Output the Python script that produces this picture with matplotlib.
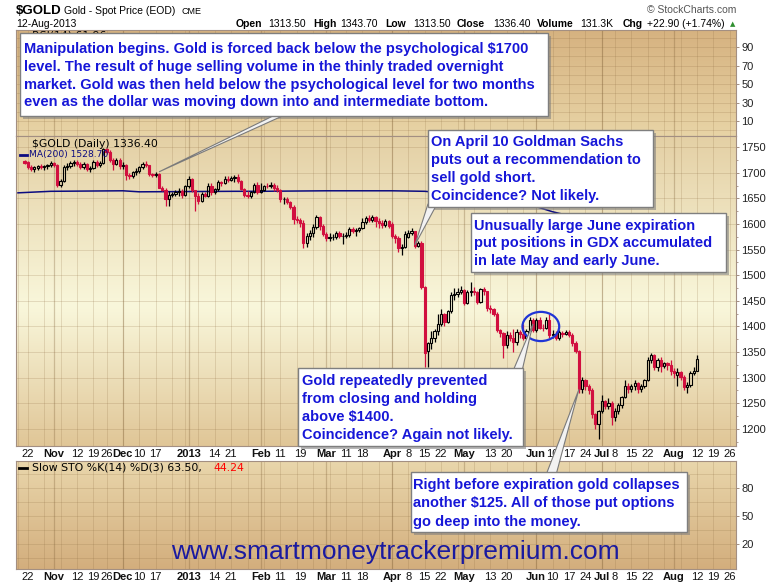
import matplotlib
matplotlib.use('Agg')
import matplotlib.pyplot as plt
import numpy as np
import pandas as pd
from matplotlib.colors import LinearSegmentedColormap
from matplotlib.patches import Rectangle, Polygon, Ellipse
from matplotlib.ticker import MultipleLocator

# daily candles: (open, high, low, close), one list per month
oct_2012 = [(1724, 1726, 1718, 1720), (1722, 1724, 1708, 1712), (1712, 1716, 1703, 1708),
            (1708, 1714, 1702, 1712), (1710, 1716, 1706, 1714), (1714, 1718, 1708, 1711),
            (1711, 1716, 1705, 1714), (1714, 1718, 1708, 1716), (1716, 1724, 1712, 1720)]
nov_2012 = [(1720, 1722, 1712, 1715), (1715, 1718, 1672, 1676), (1676, 1688, 1672, 1684),
            (1684, 1716, 1682, 1712), (1712, 1720, 1706, 1714), (1714, 1724, 1710, 1720),
            (1720, 1726, 1714, 1722), (1722, 1725, 1714, 1718), (1718, 1722, 1708, 1712),
            (1712, 1722, 1708, 1718), (1718, 1720, 1704, 1708), (1708, 1714, 1702, 1710),
            (1710, 1726, 1708, 1722), (1722, 1725, 1712, 1716), (1716, 1724, 1712, 1720),
            (1720, 1748, 1718, 1746), (1746, 1749, 1736, 1740), (1740, 1744, 1722, 1726),
            (1726, 1729, 1705, 1717), (1717, 1730, 1715, 1726), (1726, 1729, 1708, 1713)]
dec_2012 = [(1713, 1722, 1708, 1716), (1716, 1718, 1686, 1696), (1696, 1700, 1688, 1694),
            (1694, 1704, 1690, 1702), (1702, 1710, 1695, 1704), (1704, 1714, 1700, 1711),
            (1711, 1722, 1708, 1717), (1717, 1724, 1712, 1715), (1715, 1716, 1694, 1697),
            (1697, 1700, 1692, 1696), (1696, 1701, 1692, 1697), (1697, 1699, 1670, 1671),
            (1671, 1674, 1664, 1667), (1667, 1670, 1636, 1648), (1648, 1664, 1636, 1657),
            (1657, 1662, 1652, 1659), (1659, 1666, 1654, 1662), (1662, 1670, 1655, 1664),
            (1664, 1668, 1650, 1656), (1656, 1676, 1654, 1674)]
jan_2013 = [(1674, 1694, 1670, 1688), (1688, 1690, 1662, 1666), (1666, 1667, 1626, 1655),
            (1655, 1660, 1640, 1646), (1646, 1662, 1644, 1659), (1659, 1663, 1652, 1655),
            (1655, 1680, 1653, 1675), (1675, 1680, 1656, 1662), (1662, 1670, 1658, 1668),
            (1668, 1686, 1664, 1682), (1682, 1684, 1674, 1680), (1680, 1694, 1678, 1688),
            (1688, 1694, 1682, 1687), (1687, 1693, 1684, 1690), (1690, 1696, 1683, 1692),
            (1692, 1697, 1680, 1685), (1685, 1687, 1666, 1669), (1669, 1671, 1653, 1657),
            (1657, 1664, 1650, 1654), (1654, 1664, 1651, 1662), (1662, 1681, 1660, 1677),
            (1677, 1683, 1658, 1662)]
feb_2013 = [(1662, 1681, 1660, 1667), (1667, 1677, 1664, 1675), (1675, 1680, 1670, 1674),
            (1674, 1682, 1670, 1677), (1677, 1680, 1665, 1671), (1671, 1676, 1662, 1667),
            (1667, 1668, 1644, 1648), (1648, 1652, 1640, 1649), (1649, 1652, 1640, 1643),
            (1643, 1645, 1630, 1634), (1634, 1637, 1600, 1609), (1609, 1615, 1603, 1607),
            (1607, 1612, 1594, 1603), (1603, 1608, 1554, 1564), (1564, 1583, 1555, 1577),
            (1577, 1588, 1569, 1582), (1582, 1600, 1575, 1594), (1594, 1617, 1590, 1613),
            (1613, 1615, 1588, 1596), (1596, 1601, 1577, 1580)]
mar_2013 = [(1580, 1584, 1567, 1572), (1572, 1582, 1566, 1574), (1574, 1580, 1568, 1575),
            (1575, 1586, 1571, 1583), (1583, 1586, 1573, 1576), (1576, 1583, 1562, 1577),
            (1577, 1584, 1573, 1578), (1578, 1594, 1575, 1590), (1590, 1594, 1582, 1587),
            (1587, 1592, 1576, 1588), (1588, 1595, 1584, 1592), (1592, 1612, 1590, 1605),
            (1605, 1616, 1600, 1612), (1612, 1617, 1604, 1608), (1608, 1618, 1605, 1614),
            (1614, 1616, 1594, 1606), (1606, 1612, 1592, 1603), (1603, 1608, 1593, 1598),
            (1598, 1609, 1594, 1606), (1606, 1608, 1593, 1597)]
apr_2013 = [(1600, 1604, 1572, 1576), (1576, 1580, 1564, 1572), (1572, 1576, 1545, 1553),
            (1553, 1561, 1540, 1556), (1556, 1586, 1553, 1581), (1575, 1588, 1572, 1583),
            (1583, 1592, 1578, 1586), (1586, 1587, 1554, 1558), (1558, 1567, 1555, 1564),
            (1564, 1566, 1474, 1477), (1477, 1480, 1321, 1348), (1352, 1370, 1321, 1368),
            (1368, 1392, 1356, 1377), (1377, 1396, 1370, 1392), (1392, 1424, 1384, 1404),
            (1404, 1434, 1400, 1424), (1424, 1426, 1400, 1409), (1409, 1432, 1406, 1430),
            (1430, 1468, 1427, 1462), (1462, 1476, 1452, 1463), (1463, 1476, 1458, 1468),
            (1468, 1480, 1463, 1472)]
may_2013 = [(1472, 1474, 1442, 1445), (1445, 1472, 1443, 1468), (1468, 1487, 1460, 1470),
            (1470, 1478, 1462, 1468), (1468, 1470, 1443, 1448), (1448, 1476, 1446, 1473),
            (1473, 1477, 1462, 1469), (1469, 1470, 1430, 1436), (1436, 1442, 1426, 1434),
            (1434, 1437, 1420, 1425), (1425, 1428, 1389, 1394), (1394, 1396, 1380, 1387),
            (1387, 1390, 1338, 1363), (1363, 1392, 1358, 1384), (1384, 1390, 1372, 1377),
            (1377, 1396, 1350, 1370), (1370, 1396, 1364, 1390), (1390, 1394, 1378, 1386),
            (1386, 1404, 1374, 1378), (1378, 1396, 1375, 1392), (1392, 1418, 1389, 1412),
            (1412, 1417, 1390, 1394)]
jun_2013 = [(1394, 1416, 1390, 1412), (1412, 1418, 1396, 1398), (1398, 1405, 1392, 1397),
            (1397, 1418, 1395, 1413), (1413, 1424, 1378, 1383), (1383, 1393, 1378, 1386),
            (1386, 1391, 1373, 1378), (1378, 1394, 1374, 1390), (1388, 1392, 1380, 1386),
            (1386, 1394, 1384, 1390), (1390, 1393, 1380, 1384), (1384, 1388, 1362, 1368),
            (1368, 1372, 1348, 1352), (1352, 1354, 1270, 1277), (1277, 1301, 1270, 1296),
            (1296, 1298, 1275, 1284), (1284, 1288, 1268, 1276), (1276, 1280, 1222, 1230),
            (1230, 1232, 1200, 1210), (1210, 1237, 1180, 1234)]
jul_2013 = [(1234, 1267, 1232, 1254), (1254, 1256, 1238, 1244), (1244, 1260, 1238, 1250),
            (1250, 1254, 1207, 1223), (1223, 1240, 1215, 1235), (1235, 1250, 1230, 1246),
            (1246, 1265, 1240, 1263), (1263, 1295, 1260, 1284), (1284, 1290, 1270, 1278),
            (1278, 1288, 1273, 1284), (1284, 1296, 1275, 1290), (1290, 1292, 1270, 1277),
            (1277, 1288, 1272, 1284), (1284, 1298, 1280, 1295), (1295, 1340, 1293, 1335),
            (1335, 1348, 1328, 1345), (1345, 1347, 1315, 1320), (1320, 1338, 1313, 1334),
            (1334, 1340, 1312, 1322), (1322, 1331, 1318, 1328), (1328, 1330, 1315, 1325),
            (1325, 1334, 1305, 1313)]
aug_2013 = [(1313, 1318, 1300, 1310), (1306, 1318, 1284, 1311), (1311, 1314, 1295, 1302),
            (1302, 1305, 1275, 1282), (1282, 1292, 1270, 1286), (1286, 1314, 1282, 1310),
            (1310, 1320, 1305, 1313), (1313.5, 1343.7, 1313.5, 1336.4)]

months = [oct_2012, nov_2012, dec_2012, jan_2013, feb_2013, mar_2013,
          apr_2013, may_2013, jun_2013, jul_2013, aug_2013]
month_keys = ['2012-10', '2012-11', '2012-12', '2013-01', '2013-02', '2013-03',
              '2013-04', '2013-05', '2013-06', '2013-07', '2013-08']

holidays = ['2012-11-22', '2012-12-25', '2013-01-01', '2013-03-29', '2013-05-27', '2013-07-04']

ma200_dates = ['2012-10-17', '2012-10-31', '2012-12-03', '2012-12-10', '2013-01-22', '2013-02-01',
               '2013-03-01', '2013-04-01', '2013-04-15', '2013-05-01', '2013-05-15', '2013-06-03',
               '2013-06-10', '2013-06-20', '2013-07-01', '2013-07-15', '2013-08-01', '2013-08-12']
ma200_values = [1661, 1664, 1665, 1663, 1664, 1664, 1665, 1665, 1664, 1657, 1648, 1634,
                1624, 1612, 1598, 1578, 1552, 1529]

tick_dates = ['2012-10-22', '2012-11-01', '2012-11-12', '2012-11-19', '2012-11-26', '2012-12-03',
              '2012-12-10', '2012-12-17', '2013-01-02', '2013-01-14', '2013-01-21', '2013-02-01',
              '2013-02-11', '2013-02-19', '2013-03-01', '2013-03-11', '2013-03-18', '2013-04-01',
              '2013-04-08', '2013-04-15', '2013-04-22', '2013-05-01', '2013-05-13', '2013-05-20',
              '2013-06-03', '2013-06-10', '2013-06-17', '2013-06-24', '2013-07-01', '2013-07-08',
              '2013-07-15', '2013-07-22', '2013-08-01', '2013-08-12', '2013-08-19', '2013-08-26']
tick_labels = ['22', 'Nov', '12', '19', '26', 'Dec', '10', '17', '2013', '14', '21', 'Feb',
               '11', '19', 'Mar', '11', '18', 'Apr', '8', '15', '22', 'May', '13', '20',
               'Jun', '10', '17', '24', 'Jul', '8', '15', '22', 'Aug', '12', '19', '26']

price_ticks = [1200, 1250, 1300, 1350, 1400, 1450, 1500, 1550, 1600, 1650, 1700, 1750]
rsi_ticks = [10, 30, 50, 70, 90]
sto_ticks = [20, 50, 80]

stat_names = ['Open', 'High', 'Low', 'Close', 'Volume', 'Chg']
stat_values = ['1313.50', '1343.70', '1313.50', '1336.40', '131.3K', '+22.90 (+1.74%)']

notes = {
    'manipulation': ['Manipulation begins. Gold is forced back below the psychological $1700',
                     'level. The result of huge selling volume in the thinly traded overnight',
                     'market. Gold was then held below the psychological level for two months',
                     'even as the dollar was moving down into and intermediate bottom.'],
    'goldman': ['On April 10 Goldman Sachs', 'puts out a recommendation to',
                'sell gold short.', 'Coincidence? Not likely.'],
    'expiration': ['Unusually large June expiration', 'put positions in GDX accumulated',
                   'in late May and early June.'],
    'capped': ['Gold repeatedly prevented', 'from closing and holding', 'above $1400.',
               'Coincidence? Again not likely.'],
    'collapse': ['Right before expiration gold collapses', 'another $125. All of those put options',
                 'go deep into the money.'],
}

plt.rcParams['font.family'] = ['Liberation Sans', 'DejaVu Sans']

# trading calendar -> x position (0 = first trading day of Nov 2012)
days = pd.bdate_range('2012-10-17', '2013-08-30')
days = days[~days.isin(pd.to_datetime(holidays))]
pos = pd.Series(np.arange(len(days)) - list(days).index(pd.Timestamp('2012-11-01')), index=days)
wd = days.weekday.values
week_x = pos.values[np.r_[True, wd[1:] <= wd[:-1]]]
mo = days.month.values
month_x = pos.values[np.r_[False, mo[1:] != mo[:-1]]]

candle_days = days[(days >= '2012-10-19') & (days <= '2013-08-12')]
xs, rows = [], []
for key, month in zip(month_keys, months):
    md = candle_days[candle_days.strftime('%Y-%m') == key]
    for d, r in zip(md, month):
        xs.append(pos[d])
        rows.append(r)
xs = np.array(xs, dtype=float)
o, h, l, c = np.array(rows, dtype=float).T

W, H = 780, 586
fig = plt.figure(figsize=(W / 100, H / 100), dpi=100)
fig.patch.set_facecolor('white')


def px_axes(left, top, right, bottom):
    return fig.add_axes([left / W, 1 - bottom / H, (right - left) / W, (bottom - top) / H])


rsi = px_axes(16, 30, 736, 136)
price = px_axes(16, 136, 736, 446)
sto = px_axes(16, 461, 736, 569)

FRAME = '#a38f82'
GRID = (0.55, 0.42, 0.25, 0.20)
GRID_MONTH = (0.50, 0.38, 0.22, 0.32)
RED = '#d10f3f'
NAVY = '#0b0b80'
BLUE = '#1616d8'


def shade(ax, stops):
    cmap = LinearSegmentedColormap.from_list('bg', stops)
    ax.imshow(np.linspace(0, 1, 256).reshape(-1, 1), cmap=cmap, aspect='auto',
              extent=[0, 1, 0, 1], transform=ax.transAxes, zorder=0)


shade(rsi, [(0, '#d6b280'), (1, '#e8d4a6')])
shade(price, [(0, '#e4d0a5'), (0.55, '#f9f7db'), (1, '#e0c697')])
shade(sto, [(0, '#e9d6ab'), (1, '#d3ae7d')])

panels = [(rsi, (-6.2, 108.4), rsi_ticks, range(0, 101, 10)),
          (price, (1166.6, 1772), price_ticks, price_ticks),
          (sto, (-7.1, 108.6), sto_ticks, range(5, 96, 15))]
for ax, ylim, yt, ygrid in panels:
    ax.set_xlim(-11.6, 207.9)
    ax.set_ylim(ylim)
    ax.yaxis.tick_right()
    ax.set_yticks(yt)
    ax.tick_params(axis='y', direction='out', length=2.5, width=0.7, color=FRAME,
                   labelsize=8, labelcolor='#222222', pad=1.5)
    for g in ygrid:
        ax.axhline(g, color=GRID, lw=0.7, zorder=1)
    for wx in week_x:
        ax.axvline(wx, color=GRID, lw=0.7, zorder=1)
    for mx in month_x:
        ax.axvline(mx, color=GRID_MONTH, lw=0.9, zorder=1)
    for s in ax.spines.values():
        s.set_color(FRAME)
        s.set_linewidth(0.8)

price.yaxis.set_minor_locator(MultipleLocator(25))
price.tick_params(axis='y', which='minor', direction='out', length=1.5, color=FRAME, right=True, left=False)
rsi.set_xticks([])
tick_x = [pos[pd.Timestamp(d)] for d in tick_dates]
for ax in (price, sto):
    ax.set_xticks(tick_x)
    ax.set_xticklabels(tick_labels)
    ax.tick_params(axis='x', length=0, labelsize=8, pad=2.2, labelcolor='#111111')
    for lab in ax.get_xticklabels():
        t = lab.get_text()
        if not (t.isdigit() and len(t) <= 2):
            lab.set_fontweight('bold')

# candlesticks: red when the close is below the previous close, filled when close < open
prev = np.r_[o[0], c[:-1]]
cols = np.where(c < prev, RED, 'black')
faces = np.where(c < o, cols, 'none')
top = np.maximum(o, c)
bot = np.minimum(o, c)
price.vlines(xs, top, h, colors=cols, lw=0.9, zorder=3)
price.vlines(xs, l, bot, colors=cols, lw=0.9, zorder=3)
price.bar(xs, np.maximum(top - bot, 0.8), bottom=bot, width=0.68, color=list(faces),
          edgecolor=list(cols), linewidth=0.8, zorder=4)

ma_x = [pos[pd.Timestamp(d)] for d in ma200_dates]
price.plot(ma_x, ma200_values, color=NAVY, lw=1.1, zorder=2)

price.add_patch(Ellipse((pos[pd.Timestamp('2013-06-04')] + 0.4, 1400), 11.2, 57, fill=False,
                        edgecolor='#1f35d6', lw=1.6, zorder=6))

# overlay in pixel coordinates for header, legends and callouts
ov = fig.add_axes([0, 0, 1, 1], zorder=10)
ov.set_xlim(0, W)
ov.set_ylim(H, 0)
ov.axis('off')


def to_px(date, value):
    disp = price.transData.transform((pos[pd.Timestamp(date)], value))
    return ov.transData.inverted().transform(disp)


ov.text(16, 11, '$GOLD', fontsize=9.5, fontweight='bold', va='center')
ov.text(64, 11, 'Gold - Spot Price (EOD)', fontsize=7.5, va='center')
ov.text(182, 11, 'CME', fontsize=6.5, va='center')
ov.text(16, 24, '12-Aug-2013', fontsize=7.5, va='center')
name_x = [236, 313, 385, 457, 537, 623]
value_x = [268, 340, 413, 493, 580, 647]
for name, value, nx, vx in zip(stat_names, stat_values, name_x, value_x):
    ov.text(nx, 24, name, fontsize=7.5, fontweight='bold', va='center')
    ov.text(vx, 24, value, fontsize=7.5, va='center')
ov.text(733, 24, '\u25b2', fontsize=5, color='#2f8f2f', ha='center', va='center', family='DejaVu Sans')
ov.text(736, 10, '\u00a9 StockCharts.com', fontsize=7.5, color='#555555', ha='right', va='center')

leg = dict(family='DejaVu Sans', fontsize=7.8, va='center')
ov.text(32, 36, 'RSI(14) 61.96', zorder=1, **leg)
ov.text(32, 144, '$GOLD (Daily) 1336.40', zorder=1, **leg)
ov.plot([20, 27], [155, 155], color=NAVY, lw=2, zorder=1)
ov.text(29, 155, 'MA(200) 1528.70', color=NAVY, zorder=1, family='DejaVu Sans',
        fontsize=6.6, va='center')
ov.plot([19, 27], [468, 468], color='black', lw=2, zorder=1)
ov.text(32, 468, 'Slow STO %K(14) %D(3) 63.50,', zorder=1, **leg)
ov.text(213, 468, '44.24', color='red', zorder=1, **leg)

ov.text(395, 552, 'www.smartmoneytrackerpremium.com', fontsize=19, color='#1a1aa0',
        ha='center', va='center')


def callout(box, lines, tx, ty, step, pointer=None):
    left, topy, right, bottom = box
    if pointer is not None:
        base, tip = pointer
        ov.add_patch(Polygon([base[0], base[1], tip], closed=True, facecolor='#f2f2f2',
                             edgecolor='#7a7a7a', lw=0.8, zorder=3.5))
    ov.add_patch(Rectangle((left + 3, topy + 3), right - left, bottom - topy,
                           facecolor='#7d7d7d', alpha=0.55, edgecolor='none', zorder=3))
    ov.add_patch(Rectangle((left, topy), right - left, bottom - topy, facecolor='white',
                           edgecolor='#7f7f7f', lw=1, zorder=4))
    for i, line in enumerate(lines):
        ov.text(tx, ty + i * step, line, fontsize=10.5, fontweight='bold', color=BLUE,
                va='center', ha='left', zorder=5)


callout((20, 33, 548, 116), notes['manipulation'], 24, 49.5, 17.6,
        (((279, 113), (289, 113)), to_px('2012-12-18', 1702)))
callout((428, 130, 653, 207), notes['goldman'], 431, 142, 18.1,
        (((428, 204), (437, 204)), to_px('2013-04-10', 1559)))
callout((471, 213, 726, 272), notes['expiration'], 474, 226, 17.5)
callout((298, 368, 523, 446), notes['capped'], 302, 381, 18.1,
        (((513, 371), (522, 371)), to_px('2013-05-31', 1405)))
callout((411, 472, 687, 532), notes['collapse'], 413, 485, 18.3,
        (((546, 475), (556, 475)), to_px('2013-06-20', 1277)))

fig.savefig('out.png', dpi=100)
